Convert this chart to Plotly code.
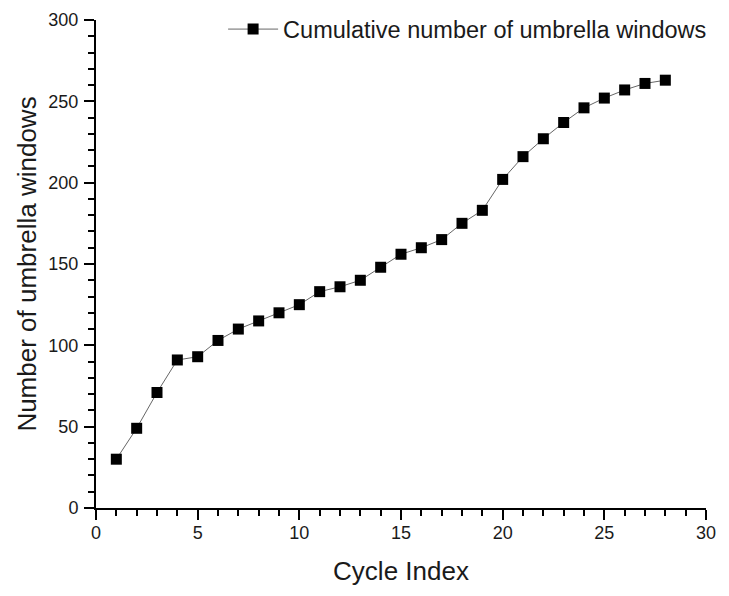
import plotly.graph_objects as go

cycle_index = list(range(1, 29))
umbrella_windows = [30, 49, 71, 91, 93, 103, 110, 115, 120, 125, 133, 136, 140, 148,
                    156, 160, 165, 175, 183, 202, 216, 227, 237, 246, 252, 257, 261, 263]
series_name = "Cumulative number of umbrella windows"
x_title = "Cycle Index"
y_title = "Number of umbrella windows"

FONT = "Liberation Sans, Arial, sans-serif"
TXT = "#1a1a1a"

fig = go.Figure()
fig.add_trace(go.Scatter(
    x=cycle_index, y=umbrella_windows, mode="lines+markers", name=series_name,
    line=dict(color="#666666", width=1),
    marker=dict(symbol="square", size=11, color="black", line=dict(width=0)),
))

axis_common = dict(
    showgrid=False, zeroline=False, showline=True, linecolor="black", linewidth=2,
    ticks="outside", ticklen=10, tickwidth=2, tickcolor="black",
    tickfont=dict(family=FONT, size=18, color=TXT),
    mirror=False, automargin=False,
)

fig.update_layout(
    width=721, height=588,
    margin=dict(l=88, r=23, t=12, b=88, autoexpand=False),
    paper_bgcolor="white", plot_bgcolor="white",
    font=dict(family=FONT, color=TXT),
    showlegend=True,
    legend=dict(x=1.01, y=1.026, xanchor="right", yanchor="top",
                font=dict(family=FONT, size=23.5, color=TXT),
                bgcolor="rgba(0,0,0,0)", borderwidth=0, itemwidth=50),
    xaxis=dict(range=[0, 30], tick0=0, dtick=5, ticklabelstandoff=-3,
               minor=dict(ticks="outside", ticklen=6, tickwidth=2, tickcolor="black", dtick=1),
               title=dict(text=x_title, font=dict(family=FONT, size=26, color=TXT), standoff=20),
               **axis_common),
    yaxis=dict(range=[0, 300], tick0=0, dtick=50, ticklabelstandoff=2,
               minor=dict(ticks="outside", ticklen=6, tickwidth=2, tickcolor="black", dtick=10),
               title=dict(text=y_title, font=dict(family=FONT, size=26, color=TXT), standoff=4),
               **axis_common),
)

fig.write_html("out.html")
